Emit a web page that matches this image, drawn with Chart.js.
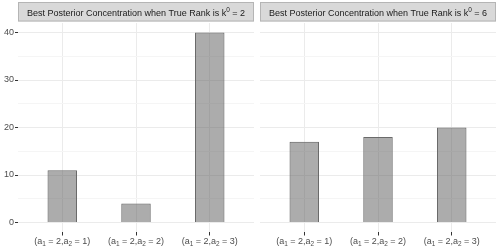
<!DOCTYPE html>
<html>
<head>
<meta charset="utf-8">
<script src="https://cdn.jsdelivr.net/npm/chart.js@4"></script>
<style>
  html, body { margin: 0; padding: 0; background: #fff; }
  #wrap { position: relative; width: 500px; height: 247px; overflow: hidden; }
  #left { position: absolute; left: 0; top: 0; }
  #right { position: absolute; left: 256px; top: 0; }
</style>
</head>
<body>
<div id="wrap">
  <canvas id="left" width="256" height="247"></canvas>
  <canvas id="right" width="244" height="247"></canvas>
</div>
<script>
//data
var categories = ['(a₁ = 2,a₂ = 1)', '(a₁ = 2,a₂ = 2)', '(a₁ = 2,a₂ = 3)'];
var panelTitles = ['Best Posterior Concentration when True Rank is k⁰ = 2',
                   'Best Posterior Concentration when True Rank is k⁰ = 6'];
var leftValues = [11, 4, 40];
var rightValues = [17, 18, 20];
var yTicks = [0, 10, 20, 30, 40];
var yMinorTicks = [5, 15, 25, 35];

//colours
const GRID_MAJOR = '#EBEBEB';
const GRID_MINOR = '#F5F5F5';
const TICK_COLOR = '#333333';
const TEXT_COLOR = '#4D4D4D';
const FONT = '"Liberation Sans", Arial, sans-serif';

//special chars drawn smaller, shifted up or down
const SPECIAL = {
  '⁰': ['0', -3.2], '₁': ['1', 2.2], '₂': ['2', 2.2], '₃': ['3', 2.2]
};

//draw text with sub/superscripts, centred at cx, baseline y
function draw_rich(ctx, text, cx, y, size, color) {
  let runs = [];
  for (const ch of text) {
    const sp = SPECIAL[ch];
    const kind = sp ? sp[1] : 0;
    const c = sp ? sp[0] : ch;
    if (runs.length && runs[runs.length - 1].shift === kind) {
      runs[runs.length - 1].str += c;
    } else {
      runs.push({str: c, shift: kind});
    }
  }
  let total = 0;
  for (const r of runs) {
    r.size = r.shift === 0 ? size : size * 0.72;
    ctx.font = r.size + 'px ' + FONT;
    r.w = ctx.measureText(r.str).width;
    total += r.w;
  }
  let x = cx - total / 2;
  ctx.fillStyle = color;
  ctx.textBaseline = 'alphabetic';
  ctx.textAlign = 'left';
  for (const r of runs) {
    ctx.font = r.size + 'px ' + FONT;
    ctx.fillText(r.str, x, y + r.shift);
    x += r.w;
  }
}

//strip on top + x labels below
const facetPlugin = {
  id: 'facet',
  afterDraw(chart, args, opts) {
    const ctx = chart.ctx;
    const area = chart.chartArea;
    ctx.save();
    //strip
    ctx.fillStyle = '#D9D9D9';
    ctx.fillRect(area.left, 2, area.right - area.left, 19.5);
    ctx.strokeStyle = '#B5B5B5';
    ctx.lineWidth = 1;
    ctx.strokeRect(area.left + 0.5, 2.5, area.right - area.left - 1, 18.5);
    draw_rich(ctx, opts.title, (area.left + area.right) / 2, 15.5, 9, '#1A1A1A');
    //x tick labels
    const xs = chart.scales.x;
    categories.forEach(function(lab, i) {
      draw_rich(ctx, lab, xs.getPixelForValue(i + 1), 244, 9, TEXT_COLOR);
    });
    ctx.restore();
  }
};

function make_panel(canvasId, values, title, showY) {
  return new Chart(document.getElementById(canvasId), {
    type: 'bar',
    data: {
      datasets: [{
        data: values.map(function(v, i) { return {x: i + 1, y: v}; }),
        backgroundColor: 'rgba(95,95,95,0.52)',
        borderColor: '#6A6A6A',
        borderWidth: 1,
        barPercentage: 0.4,
        categoryPercentage: 1
      }]
    },
    options: {
      responsive: false,
      animation: false,
      devicePixelRatio: 1,
      layout: {
        padding: {left: 0, right: showY ? 2 : 4, top: 23, bottom: 0}
      },
      plugins: {
        legend: {display: false},
        tooltip: {enabled: false},
        facet: {title: title}
      },
      scales: {
        x: {
          type: 'linear',
          min: 0.4,
          max: 3.6,
          offset: false,
          afterBuildTicks: function(scale) {
            scale.ticks = categories.map(function(c, i) { return {value: i + 1}; });
          },
          afterFit: function(scale) { scale.height = 15; },
          border: {display: false},
          grid: {
            offset: false,
            color: GRID_MAJOR,
            lineWidth: 1,
            tickLength: 3.5,
            tickColor: TICK_COLOR,
            tickWidth: 1
          },
          ticks: {display: false}
        },
        y: {
          min: -2,
          max: 42,
          afterBuildTicks: function(scale) {
            scale.ticks = yTicks.concat(yMinorTicks).sort(function(a, b) { return a - b; })
              .map(function(v) { return {value: v}; });
          },
          afterFit: function(scale) { scale.width = showY ? 18 : 4; },
          border: {display: false},
          grid: {
            color: function(c) { return yTicks.indexOf(c.tick.value) >= 0 ? GRID_MAJOR : GRID_MINOR; },
            lineWidth: 1,
            drawTicks: showY,
            tickLength: 3,
            tickColor: function(c) { return yTicks.indexOf(c.tick.value) >= 0 ? TICK_COLOR : 'rgba(0,0,0,0)'; },
            tickWidth: 1
          },
          ticks: {
            display: showY,
            padding: 1,
            color: TEXT_COLOR,
            font: {family: FONT, size: 9},
            callback: function(v) { return yTicks.indexOf(v) >= 0 ? String(v) : ''; }
          }
        }
      }
    },
    plugins: [facetPlugin]
  });
}

var leftChart = make_panel('left', leftValues, panelTitles[0], true);
var rightChart = make_panel('right', rightValues, panelTitles[1], false);
</script>
</body>
</html>
